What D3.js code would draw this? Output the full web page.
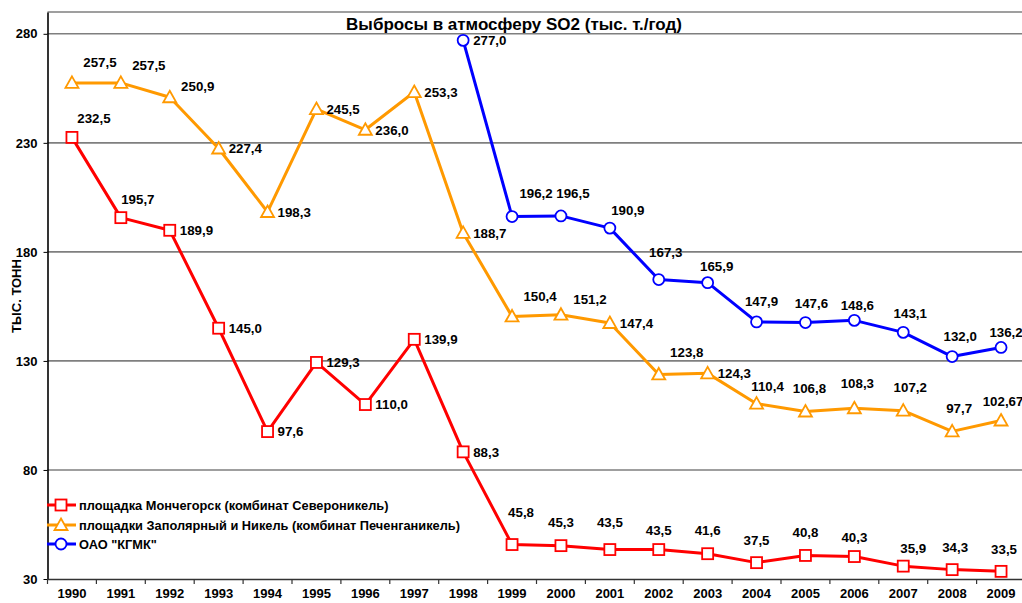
<!DOCTYPE html>
<html><head><meta charset="utf-8">
<script src="https://cdn.jsdelivr.net/npm/d3@7"></script>
<style>body{margin:0;background:#fff}svg{display:block;font-family:"Liberation Sans",Arial,sans-serif}</style>
</head><body><svg id="c" width="1022" height="603"></svg>
<script>
const years = ["1990","1991","1992","1993","1994","1995","1996","1997","1998","1999","2000","2001","2002","2003","2004","2005","2006","2007","2008","2009"];
const monchegorsk = [232.5,195.7,189.9,145.0,97.6,129.3,110.0,139.9,88.3,45.8,45.3,43.5,43.5,41.6,37.5,40.8,40.3,35.9,34.3,33.5];
const monchegorskLabels = ["232,5","195,7","189,9","145,0","97,6","129,3","110,0","139,9","88,3","45,8","45,3","43,5","43,5","41,6","37,5","40,8","40,3","35,9","34,3","33,5"];
const pechenga = [257.5,257.5,250.9,227.4,198.3,245.5,236.0,253.3,188.7,150.4,151.2,147.4,123.8,124.3,110.4,106.8,108.3,107.2,97.7,102.67];
const pechengaLabels = ["257,5","257,5","250,9","227,4","198,3","245,5","236,0","253,3","188,7","150,4","151,2","147,4","123,8","124,3","110,4","106,8","108,3","107,2","97,7","102,67"];
const kgmk = [null,null,null,null,null,null,null,null,277.0,196.2,196.5,190.9,167.3,165.9,147.9,147.6,148.6,143.1,132.0,136.2];
const kgmkLabels = [null,null,null,null,null,null,null,null,"277,0","196,2","196,5","190,9","167,3","165,9","147,9","147,6","148,6","143,1","132,0","136,2"];
const yTicks = [30,80,130,180,230,280];
const seriesNames = ["площадка Мончегорск (комбинат Североникель)","площадки Заполярный и Никель (комбинат Печенганикель)","ОАО \"КГМК\""];
const title = "Выбросы в атмосферу SO2 (тыс. т./год)";
const yTitle = "ТЫС. ТОНН";

// label placement offsets (layout, relative to the point): [dx, dy]; R = to the right
const R = "r";
const offM = [[22,-19],[17,-18],R,R,R,R,R,R,R,[9,-32],[0,-23],[0,-27],[0,-19],[0,-23],[0,-22],[0,-23],[0,-19],[10,-18],[3,-22],[3,-22]];
const offP = [[28,-21],[28,-18],[28,-11],R,R,R,R,R,R,[28,-20],[29,-15],R,[28,-22],R,[11,-17],[4,-23],[3,-25],[7,-23],[7,-23],[2,-19]];
const offK = [null,null,null,null,null,null,null,null,R,[24,-23],[12,-23],[18,-18],[7,-27],[9,-16],[5,-21],[6,-19],[3,-15],[7,-19],[8,-20],[5,-15]];

const svg = d3.select("#c");
const mLeft = 47.5, mRight = 1025.5, mTop = 12, mBottom = 579;
const x = d3.scaleBand().domain(years).range([mLeft, mRight]).padding(0);
const y = d3.scaleLinear().domain([30, 290]).range([mBottom, mTop]);
const cx = d => x(d) + x.bandwidth()/2;

// gridlines
svg.append("g").selectAll("line").data(yTicks.concat([290]).filter(v => v > 30)).join("line")
  .attr("x1", mLeft).attr("x2", 1022).attr("y1", d => y(d)).attr("y2", d => y(d))
  .attr("stroke", "#7f7f7f").attr("stroke-width", 1.6);

// axes
const yAxis = svg.append("g").attr("transform", `translate(${mLeft},0)`)
  .call(d3.axisLeft(y).tickValues(yTicks).tickSize(4).tickSizeOuter(0).tickFormat(d3.format("d")));
yAxis.select(".domain").attr("stroke", "#000").attr("stroke-width", 1.6);
yAxis.selectAll("text").attr("font-size", 13).attr("font-weight", "bold").attr("fill", "#000").attr("x", -10);

const xAxis = svg.append("g").attr("transform", `translate(0,${mBottom})`)
  .call(d3.axisBottom(x).tickSize(0).tickSizeOuter(0));
xAxis.select(".domain").attr("stroke", "#333").attr("stroke-width", 1.6);
xAxis.selectAll("text").attr("font-size", 13).attr("font-weight", "bold").attr("fill", "#000").attr("dy", 0).attr("y", 19);
svg.append("g").selectAll("line").data(years).join("line")
  .attr("x1", d => x(d)).attr("x2", d => x(d)).attr("y1", mBottom).attr("y2", mBottom + 5)
  .attr("stroke", "#333").attr("stroke-width", 1.2);

// title
svg.append("text").attr("x", 514).attr("y", 30).attr("text-anchor", "middle")
  .attr("font-size", 17).attr("font-weight", "bold").text(title);
svg.append("text").attr("transform", "translate(21,296) rotate(-90)").attr("text-anchor", "middle")
  .attr("font-size", 13).attr("font-weight", "bold").text(yTitle);

const series = [
  {vals: monchegorsk, labels: monchegorskLabels, off: offM, color: "#ff0000", shape: "square"},
  {vals: pechenga, labels: pechengaLabels, off: offP, color: "#ff9900", shape: "triangle"},
  {vals: kgmk, labels: kgmkLabels, off: offK, color: "#0000ff", shape: "circle"}
];

function marker(g, shape, color, px, py) {
  if (shape === "square") {
    g.append("rect").attr("x", px - 5.5).attr("y", py - 5.5).attr("width", 11).attr("height", 11)
      .attr("fill", "#fff").attr("stroke", color).attr("stroke-width", 1.8);
  } else if (shape === "triangle") {
    g.append("path").attr("d", `M${px},${py-6.5}L${px+6.5},${py+5}L${px-6.5},${py+5}Z`)
      .attr("fill", "#fff").attr("stroke", color).attr("stroke-width", 1.8);
  } else {
    g.append("circle").attr("cx", px).attr("cy", py).attr("r", 5.5)
      .attr("fill", "#fff").attr("stroke", color).attr("stroke-width", 1.8);
  }
}

const line = d3.line().defined(d => d.v != null).x(d => cx(d.yr)).y(d => y(d.v));
series.forEach(s => {
  const pts = years.map((yr, i) => ({yr, v: s.vals[i], lab: s.labels[i], off: s.off[i]}));
  svg.append("path").datum(pts).attr("d", line).attr("fill", "none")
    .attr("stroke", s.color).attr("stroke-width", 3).attr("stroke-linejoin", "round");
  const g = svg.append("g");
  pts.filter(p => p.v != null).forEach(p => marker(g, s.shape, s.color, cx(p.yr), y(p.v)));
});
series.forEach(s => {
  const pts = years.map((yr, i) => ({yr, v: s.vals[i], lab: s.labels[i], off: s.off[i]}));
  svg.append("g").selectAll("text").data(pts.filter(p => p.v != null)).join("text")
    .attr("x", p => p.off === R ? cx(p.yr) + 10 : cx(p.yr) + p.off[0])
    .attr("y", p => p.off === R ? y(p.v) : y(p.v) + p.off[1])
    .attr("dy", "0.36em")
    .attr("text-anchor", p => p.off === R ? "start" : "middle")
    .attr("font-size", 13.3).attr("font-weight", "bold").attr("fill", "#000")
    .text(p => p.lab);
});

// legend
const legY = [505, 525, 544];
series.forEach((s, i) => {
  const g = svg.append("g");
  g.append("line").attr("x1", 47).attr("x2", 76).attr("y1", legY[i]).attr("y2", legY[i])
    .attr("stroke", s.color).attr("stroke-width", 3);
  marker(g, s.shape, s.color, 61, legY[i]);
  g.append("text").attr("x", 79).attr("y", legY[i]).attr("dy", "0.36em")
    .attr("font-size", 12.8).attr("font-weight", "bold").text(seriesNames[i]);
});
</script></body></html>
